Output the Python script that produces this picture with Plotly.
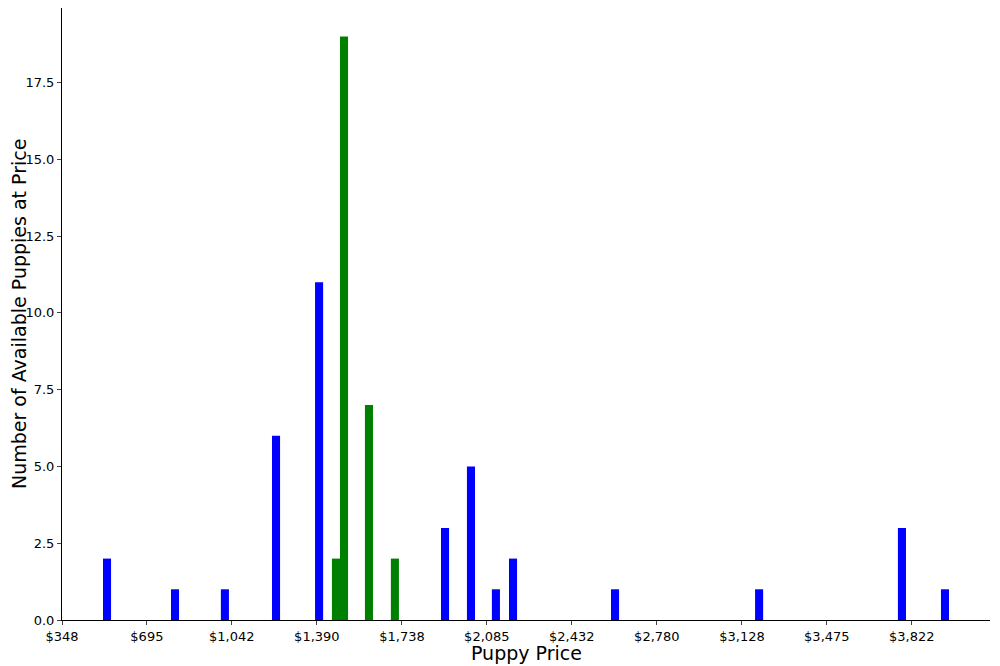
import plotly.graph_objects as go

blue_x = [532, 810, 1014, 1223, 1399, 1914, 2020, 2122, 2192, 2609, 3198, 3782, 3958]
blue_y = [2, 1, 1, 6, 11, 3, 5, 1, 2, 1, 1, 3, 1]
green_x = [1468, 1501, 1603, 1709]
green_y = [2, 19, 7, 2]
tick_vals = [348, 695, 1042, 1390, 1738, 2085, 2432, 2780, 3128, 3475, 3822]
tick_text = ["$348", "$695", "$1,042", "$1,390", "$1,738", "$2,085", "$2,432", "$2,780", "$3,128", "$3,475", "$3,822"]
y_ticks = [0, 2.5, 5, 7.5, 10, 12.5, 15, 17.5]

fig = go.Figure()
fig.add_bar(x=blue_x, y=blue_y, width=33, marker=dict(color="#0000ff", line_width=0))
fig.add_bar(x=green_x, y=green_y, width=33, marker=dict(color="#008000", line_width=0))
fig.update_layout(
    width=1000, height=666, showlegend=False, barmode="overlay",
    plot_bgcolor="white", paper_bgcolor="white",
    margin=dict(l=54, r=18, t=0, b=54),
    font=dict(family="DejaVu Sans", color="black", size=13),
    xaxis=dict(range=[348, 4142], tickvals=tick_vals, ticktext=tick_text, automargin=False,
               showline=True, linecolor="black", ticks="outside", ticklen=4,
               showgrid=False, zeroline=False),
    yaxis=dict(range=[0, 19.93], tickvals=y_ticks, ticktext=["0.0","2.5","5.0","7.5","10.0","12.5","15.0","17.5"],
               automargin=False,
               showline=True, linecolor="black", ticks="outside", ticklen=4,
               showgrid=False, zeroline=False),
    annotations=[
        dict(text="Puppy Price", xref="paper", yref="paper", x=0.5, y=-33/612,
             xanchor="center", yanchor="middle", showarrow=False, font=dict(size=19)),
        dict(text="Number of Available Puppies at Price", xref="paper", yref="paper",
             x=-43/928, y=0.5, textangle=-90, xanchor="center", yanchor="middle",
             showarrow=False, font=dict(size=19)),
    ],
)
fig.write_html("out.html")
